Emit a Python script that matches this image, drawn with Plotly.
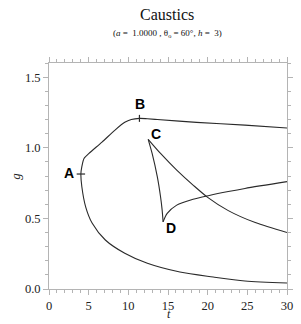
import plotly.graph_objects as go

# Fold curve (lower branch from t=30 up to A, then upper branch through B to t=30)
fold_t = [30.0, 24.7, 20.7, 16.5, 12.4, 9.55, 7.1, 5.45, 4.63, 4.14, 4.02,
          4.14, 4.43, 5.04, 6.68, 8.32, 9.55, 10.37, 11.4, 12.4, 13.65, 18.6, 24.7, 30.0]
fold_g = [0.042, 0.057, 0.085, 0.12, 0.182, 0.253, 0.347, 0.465, 0.58, 0.724, 0.814,
          0.866, 0.925, 0.96, 1.04, 1.125, 1.18, 1.20, 1.208, 1.205, 1.20, 1.18, 1.16, 1.14]

# Swallowtail: branch from C to the right edge
cr_t = [12.5, 14.06, 16.1, 18.16, 20.0, 22.6, 26.0, 30.0]
cr_g = [1.06, 0.96, 0.842, 0.736, 0.649, 0.555, 0.47, 0.40]
# branch from C down to D
cd_t = [12.5, 13.0, 13.65, 14.06, 14.26, 14.38]
cd_g = [1.06, 0.96, 0.795, 0.653, 0.56, 0.475]
# branch from D to the right edge
dr_t = [14.38, 14.9, 16.1, 18.16, 20.2, 22.6, 24.7, 30.0]
dr_g = [0.475, 0.535, 0.594, 0.635, 0.662, 0.69, 0.712, 0.76]

point_a = (4.02, 0.814)
point_b = (11.4, 1.208)

x_ticks = [0, 5, 10, 15, 20, 25, 30]
y_ticks = [0.0, 0.5, 1.0, 1.5]
y_tick_labels = ["0.0", "0.5", "1.0", "1.5"]

line_col = "#2a2a2a"
axis_col = "#b4b4b4"
serif = "Liberation Serif, Times New Roman, serif"

fig = go.Figure()
for tt, gg in [(fold_t, fold_g), (cr_t, cr_g), (cd_t, cd_g), (dr_t, dr_g)]:
    fig.add_trace(go.Scatter(x=tt, y=gg, mode="lines",
                             line=dict(color=line_col, width=1.1, shape="spline", smoothing=0.8),
                             hoverinfo="skip", showlegend=False))

fig.add_trace(go.Scatter(x=[point_a[0]], y=[point_a[1]], mode="markers",
                         marker=dict(symbol="line-ew-open", size=6, color=line_col,
                                     line=dict(color=line_col, width=1.2)),
                         showlegend=False, hoverinfo="skip"))
fig.add_trace(go.Scatter(x=[point_b[0]], y=[point_b[1]], mode="markers",
                         marker=dict(symbol="line-ns-open", size=5, color=line_col,
                                     line=dict(color=line_col, width=1.2)),
                         showlegend=False, hoverinfo="skip"))

lab_font = dict(family="Liberation Sans, Arial, sans-serif", size=14, color="#000000")
for txt, x, y in [("<b>A</b>", 2.58, 0.82), ("<b>B</b>", 11.43, 1.31),
                  ("<b>C</b>", 13.44, 1.10), ("<b>D</b>", 15.4, 0.43)]:
    fig.add_annotation(x=x, y=y, text=txt, showarrow=False, font=lab_font,
                       xanchor="center", yanchor="middle")

fig.add_annotation(xref="paper", yref="paper", x=(14 - 49) / 244, y=0.5, text="<i>g</i>",
                   textangle=-90, showarrow=False, font=dict(family=serif, size=13, color="#222"),
                   xanchor="center", yanchor="middle")
fig.add_annotation(xref="paper", yref="paper", x=0.504, y=(289 - 313.5) / 226, text="<i>t</i>",
                   showarrow=False, font=dict(family=serif, size=12, color="#222"),
                   xanchor="center", yanchor="middle")
fig.add_annotation(xref="paper", yref="paper", x=0.496, y=(289 - 15) / 226, text="Caustics",
                   showarrow=False, font=dict(family=serif, size=16, color="#111"),
                   xanchor="center", yanchor="middle")
fig.add_annotation(xref="paper", yref="paper", x=0.496, y=(289 - 33) / 226,
                   text="(<i>a</i> =  1.0000 , θ<sub>o</sub> = 60°, <i>h</i> =  3)",
                   showarrow=False, font=dict(family=serif, size=9, color="#111"),
                   xanchor="center", yanchor="middle")

axis_common = dict(showline=True, linecolor=axis_col, linewidth=1, mirror="ticks",
                   ticks="outside", ticklen=5, tickwidth=1, tickcolor=axis_col,
                   showgrid=False, zeroline=False,
                   tickfont=dict(family=serif, size=12.5, color="#222"))

fig.update_xaxes(range=[0, 30], tickvals=x_ticks, ticktext=[str(v) for v in x_ticks],
                 minor=dict(dtick=1, ticks="outside", ticklen=3, tickcolor=axis_col, showgrid=False),
                 **axis_common)
fig.update_yaxes(range=[0, 1.6], tickvals=y_ticks, ticktext=y_tick_labels,
                 minor=dict(dtick=0.1, ticks="outside", ticklen=3, tickcolor=axis_col, showgrid=False),
                 **axis_common)

fig.update_layout(width=301, height=324, margin=dict(l=49, r=8, t=63, b=35),
                  plot_bgcolor="white", paper_bgcolor="white", showlegend=False)

fig.write_html("out.html", config={"displayModeBar": False},
               post_script="document.body.style.margin='0';document.body.style.overflow='hidden';")
